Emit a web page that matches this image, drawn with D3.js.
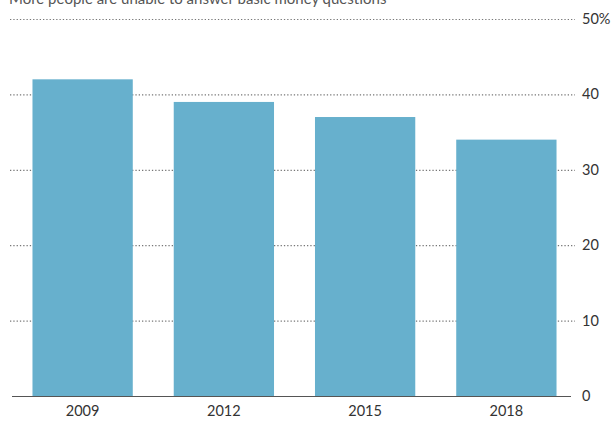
<!DOCTYPE html>
<html>
<head>
<meta charset="utf-8">
<script src="https://d3js.org/d3.v7.min.js"></script>
<style>
body { margin: 0; background: #fff; }
text { font-family: Lato, "Open Sans", sans-serif; }
</style>
</head>
<body>
<script>
// chart data
var years = ["2009", "2012", "2015", "2018"];
var shares = [42, 39, 37, 34];
var yTicks = [0, 10, 20, 30, 40, 50];
var title = "More people are unable to answer basic money questions";

var W = 613, H = 422;
var svg = d3.select("body").append("svg")
  .attr("width", W)
  .attr("height", H);

var x = d3.scaleBand()
  .domain(years)
  .range([12, 577])
  .paddingInner(0.29)
  .paddingOuter(0.145);

var y = d3.scaleLinear()
  .domain([0, 50])
  .range([396, 19]);

// dotted gridlines
svg.selectAll("line.grid")
  .data(yTicks.filter(function(d) { return d > 0; }))
  .enter().append("line")
  .attr("class", "grid")
  .attr("x1", 10)
  .attr("x2", 575)
  .attr("y1", function(d) { return y(d) + 0.5; })
  .attr("y2", function(d) { return y(d) + 0.5; })
  .attr("stroke", "#777")
  .attr("stroke-width", 1.2)
  .attr("stroke-dasharray", "1.3,2");

// tick labels on the right
svg.selectAll("text.ytick")
  .data(yTicks)
  .enter().append("text")
  .attr("class", "ytick")
  .attr("x", 582)
  .attr("y", function(d) { return y(d) + 5; })
  .attr("font-size", 14.5)
  .attr("fill", "#333")
  .text(function(d) { return d == 50 ? d + "%" : d; });

// bars
svg.selectAll("rect.bar")
  .data(shares)
  .enter().append("rect")
  .attr("class", "bar")
  .attr("x", function(d, i) { return x(years[i]); })
  .attr("width", x.bandwidth())
  .attr("y", function(d) { return y(d); })
  .attr("height", function(d) { return y(0) - y(d); })
  .attr("fill", "#67b0cd");

// baseline
svg.append("line")
  .attr("x1", 12)
  .attr("x2", 571)
  .attr("y1", y(0) + 0.5)
  .attr("y2", y(0) + 0.5)
  .attr("stroke", "#555")
  .attr("stroke-width", 1);

// year labels
svg.selectAll("text.xtick")
  .data(years)
  .enter().append("text")
  .attr("class", "xtick")
  .attr("x", function(d) { return x(d) + x.bandwidth() / 2; })
  .attr("y", 416)
  .attr("text-anchor", "middle")
  .attr("font-size", 14.5)
  .attr("fill", "#333")
  .text(function(d) { return d; });

// title (cut off at the top, as in the source image)
svg.append("text")
  .attr("x", 9)
  .attr("y", 4)
  .attr("font-size", 15)
  .attr("fill", "#555")
  .text(title);
</script>
</body>
</html>
